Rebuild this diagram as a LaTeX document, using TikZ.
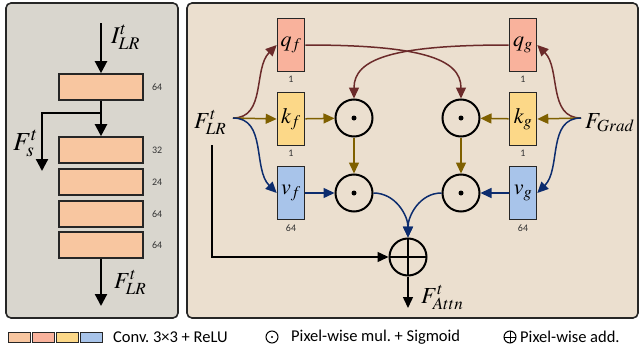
\documentclass[tikz,border=0pt]{standalone}
\usepackage{mathptmx}
\usepackage{fontspec}
\setsansfont{Carlito}
\usepackage{tikz}
\usetikzlibrary{arrows.meta,positioning}

\definecolor{panelgray}{HTML}{D9D6CE}
\definecolor{panelbeige}{HTML}{EBDFCF}
\definecolor{convpeach}{HTML}{F8C6A0}
\definecolor{convsalmon}{HTML}{F9B29C}
\definecolor{convyellow}{HTML}{FCD888}
\definecolor{convblue}{HTML}{A8C4EA}
\definecolor{qbrown}{HTML}{6B2A2A}
\definecolor{kolive}{HTML}{7F6000}
\definecolor{vnavy}{HTML}{0C2C6E}

\tikzset{
  panel/.style={draw=black!85, line width=1.6pt, rounded corners=5pt},
  convh/.style={draw=black!85, line width=1.6pt, fill=convpeach, minimum width=84pt, minimum height=26pt, inner sep=0pt},
  convv/.style={draw=black!85, line width=1.6pt, minimum width=27pt, minimum height=53pt, inner sep=0pt, font=\fontsize{22}{24}\selectfont},
  chan/.style={font=\sffamily\fontsize{10}{11}\selectfont, text=black!80, inner sep=0pt},
  lbl/.style={font=\fontsize{23}{25}\selectfont, inner sep=0pt},
  mulop/.style={circle, draw, line width=2pt, minimum size=37pt, inner sep=0pt,
    path picture={\fill (path picture bounding box.center) circle (2.5pt);}},
  addop/.style={circle, draw, line width=2pt, minimum size=37pt, inner sep=0pt,
    path picture={\draw[line width=2pt] (path picture bounding box.north) -- (path picture bounding box.south)
      (path picture bounding box.west) -- (path picture bounding box.east);}},
  arr/.style={-{Triangle[length=11pt,width=10pt]}, line width=1.5pt},
  flow/.style={-{Triangle[length=12pt,width=12pt]}, line width=2.2pt},
  legbox/.style={draw=black!85, line width=1pt, minimum width=22pt, minimum height=10pt, inner sep=0pt},
  legtext/.style={font=\sffamily\fontsize{16.5}{18}\selectfont, inner sep=0pt, anchor=west},
}

\begin{document}
\frenchspacing
\begin{tikzpicture}[x=1pt, y=-1pt]
\useasboundingbox (0,0) rectangle (641,351);

% panels
\draw[panel, fill=panelgray] (6,3) rectangle (178,318);
\draw[panel, fill=panelbeige] (187,3) rectangle (638,318);

% shallow feature extractor
\node[convh] (c1) at (101,87) {};
\node[convh] (c2) at (101,150) {};
\node[convh] (c3) at (101,182) {};
\node[convh] (c4) at (101,214) {};
\node[convh] (c5) at (101,245) {};
\node[chan, right=8pt of c1] {64};
\node[chan, right=8pt of c2] {32};
\node[chan, right=8pt of c3] {24};
\node[chan, right=8pt of c4] {64};
\node[chan, right=8pt of c5] {64};

\coordinate (lrin) at (101,23);
\coordinate (split) at (101,113);
\coordinate (fsout) at (42,171);
\coordinate (lrout) at (101,306);
\draw[flow] (lrin) -- (c1);
\draw[flow] (c1) -- (c2);
\draw[flow] (split) -| (fsout);
\draw[flow] (c5) -- (lrout);
\node[lbl, font=\fontsize{24}{26}\selectfont, anchor=base west] at (111,43) {$I^t_{LR}$};
\node[lbl, font=\fontsize{26}{28}\selectfont, anchor=base east] at (38,150) {$F^t_s$};
\node[lbl, anchor=base west] at (114,288) {$F^t_{LR}$};

% attention branch
\node[convv, fill=convsalmon] (qf) at (291,45) {$q_f$};
\node[convv, fill=convyellow] (kf) at (291,119) {$k_f$};
\node[convv, fill=convblue] (vf) at (291,193) {$v_f$};
\node[convv, fill=convsalmon] (qg) at (523,45) {$q_g$};
\node[convv, fill=convyellow] (kg) at (523,119) {$k_g$};
\node[convv, fill=convblue] (vg) at (523,193) {$v_g$};
\node[chan, below=4pt of qf] {1};
\node[chan, below=4pt of kf] {1};
\node[chan, below=4pt of vf] {64};
\node[chan, below=4pt of qg] {1};
\node[chan, below=4pt of kg] {1};
\node[chan, below=4pt of vg] {64};

\node[mulop] (mf1) at (354,118) {};
\node[mulop] (mf2) at (354,193) {};
\node[mulop] (mg1) at (461,118) {};
\node[mulop] (mg2) at (461,193) {};
\node[addop] (sum) at (408,257) {};

\node[lbl, anchor=base west] (flr) at (194,128) {$F^t_{LR}$};
\node[lbl, anchor=base west] (fgrad) at (585,128) {$F_{Grad}$};
\coordinate (flrout) at (233,118);
\coordinate (flrskip) at (212,145);
\coordinate (fgin) at (581,118);
\coordinate (attn) at (408,308);
\node[lbl, anchor=base west] at (421,303) {$F^t_{Attn}$};

\draw[arr, qbrown] (flrout) to[out=0, in=225] (qf.west);
\draw[arr, kolive] (flrout) -- (kf.west);
\draw[arr, vnavy] (flrout) to[out=0, in=135] (vf.west);
\draw[arr, qbrown] (fgin) to[out=180, in=-45] (qg.east);
\draw[arr, kolive] (fgin) -- (kg.east);
\draw[arr, vnavy] (fgin) to[out=180, in=45] (vg.east);

\draw[arr, kolive] (kf) -- (mf1);
\draw[arr, vnavy] (vf) -- (mf2);
\draw[arr, kolive] (mf1) -- (mf2);
\draw[arr, kolive] (kg) -- (mg1);
\draw[arr, vnavy] (vg) -- (mg2);
\draw[arr, kolive] (mg1) -- (mg2);
\draw[arr, qbrown] (qf.east) .. controls +(115,0) and +(0,-40) .. (mg1.north);
\draw[arr, qbrown] (qg.west) .. controls +(-115,0) and +(0,-40) .. (mf1.north);

\draw[arr, vnavy] (mf2.east) to[out=0, in=90] (sum.north);
\draw[arr, vnavy] (mg2.west) to[out=180, in=90] (sum.north);
\draw[arr] (flrskip) |- (sum.west);
\draw[arr] (sum.south) -- (attn);

% legend
\node[legbox, fill=convpeach] (lg1) at (19,337) {};
\node[legbox, fill=convsalmon, right=1pt of lg1] (lg2) {};
\node[legbox, fill=convyellow, right=1pt of lg2] (lg3) {};
\node[legbox, fill=convblue, right=1pt of lg3] (lg4) {};
\node[legtext] at (113,337) {Conv. 3×3 + ReLU};
\node[circle, draw, line width=1pt, minimum size=12pt, inner sep=0pt,
  path picture={\fill (path picture bounding box.center) circle (1.2pt);}] (lgmul) at (272,337) {};
\node[legtext] at (291,337) {Pixel-wise mul. + Sigmoid};
\node[circle, draw, line width=1pt, minimum size=12pt, inner sep=0pt,
  path picture={\draw[line width=1pt] (path picture bounding box.north) -- (path picture bounding box.south)
    (path picture bounding box.west) -- (path picture bounding box.east);}] (lgadd) at (510,337) {};
\node[legtext] at (520,337) {Pixel-wise add.};
\end{tikzpicture}
\end{document}
